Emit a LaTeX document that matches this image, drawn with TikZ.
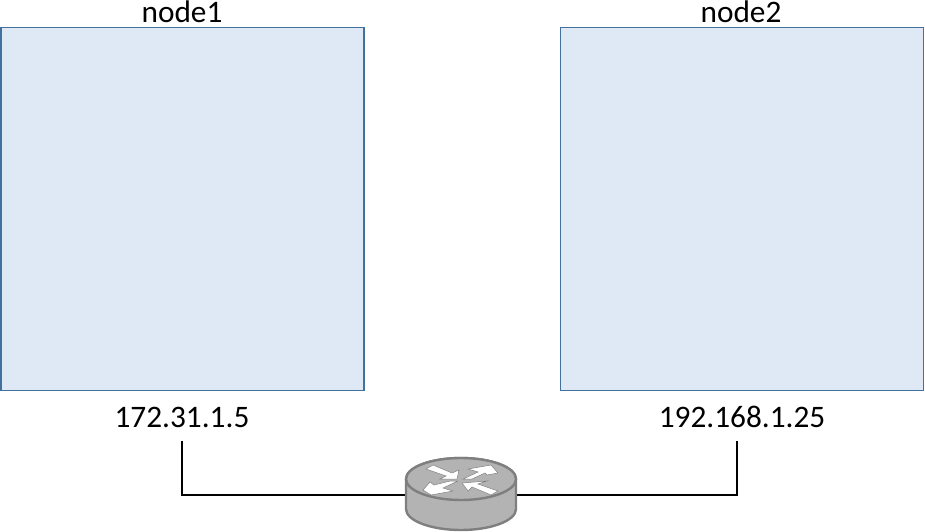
\documentclass[tikz,border=0pt]{standalone}
\usepackage{fontspec}
\setmainfont{Carlito}
\definecolor{boxfill}{HTML}{DEE9F5}
\definecolor{boxline}{HTML}{41719C}
\definecolor{rtop}{HTML}{B3B3B3}
\definecolor{rline}{HTML}{7F7F7F}
\tikzset{
  hostbox/.style={draw=boxline,fill=boxfill,line width=1.6pt,minimum width=363pt,minimum height=363pt,inner sep=0pt,outer sep=0pt},
  lbl/.style={font=\fontsize{31.3}{36}\selectfont,text=black,inner sep=0pt},
  wire/.style={draw=black,line width=2.1pt},
  rbody/.style={draw=rline,fill=rtop,line width=2.4pt},
  rarrow/.style={draw=rline,fill=white,line width=0.5pt,line join=miter}
}
\begin{document}
\begin{tikzpicture}[x=1pt,y=-1pt]
\useasboundingbox (0,0) rectangle (925,532);
\node[hostbox] (n1) at (182.5,209) {};
\node[hostbox] (n2) at (742,209) {};
\node[lbl] (t1) at (182,12) {node1};
\node[lbl] (t2) at (741,12) {node2};
\node[lbl] (ip1) at (182,417) {172.31.1.5};
\node[lbl] (ip2) at (742,417) {192.168.1.25};
\coordinate (r) at (461,495);
\coordinate (a) at (182,441);
\coordinate (b) at (737,441);
\draw[wire] (a) |- (r) -| (b);
% router
\path[rbody] (406,479) -- (406,509) arc[start angle=180,end angle=0,x radius=55,y radius=21] -- (516,479) arc[start angle=0,end angle=-180,x radius=55,y radius=21] -- cycle;
\path[rbody] (461,479) ellipse[x radius=55,y radius=21];
\path[rarrow] (426,469) -- (433,465) -- (452,473) -- (459,470) -- (457,479) -- (440,479) -- (446,476) -- cycle;
\path[rarrow] (468,469) -- (491,465) -- (498,473) -- (487,475) -- (485,473) -- (472,479) -- (463,479) -- (478,472) -- cycle;
\path[rarrow] (423,490) -- (430,482) -- (434,485) -- (450,481) -- (458,481) -- (443,488) -- (453,491) -- (431,495) -- cycle;
\path[rarrow] (462,483) -- (487,481) -- (478,484) -- (498,491) -- (491,495) -- (472,487) -- (468,491) -- cycle;
\end{tikzpicture}
\end{document}
